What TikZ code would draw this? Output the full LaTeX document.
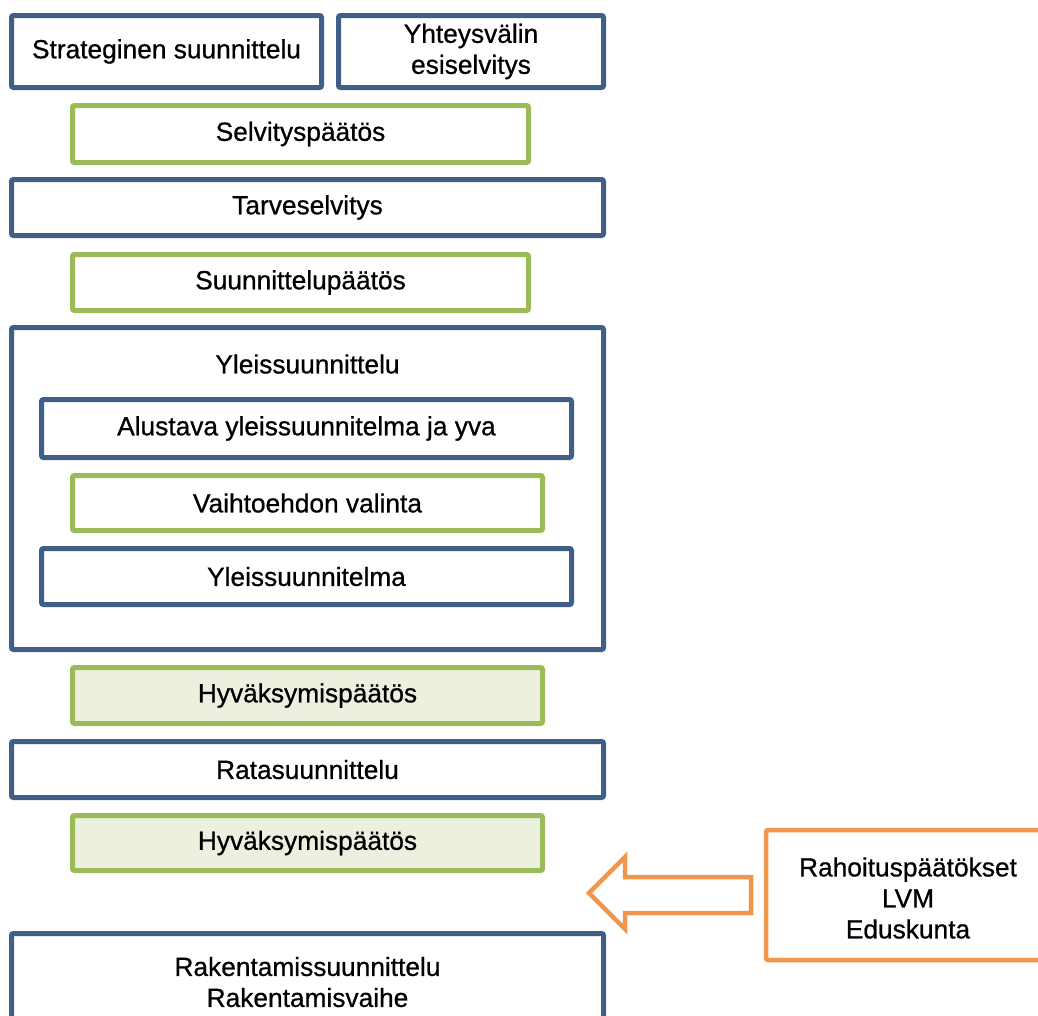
\documentclass[tikz,border=0pt]{standalone}
\usepackage{fontspec}
\setmainfont[FakeBold=0.7]{Liberation Sans}
\definecolor{bblue}{HTML}{3F5F88}
\definecolor{bgreen}{HTML}{9BBB59}
\definecolor{gfill}{HTML}{EBF1DE}
\definecolor{borange}{HTML}{F0964B}
\tikzset{
  txt/.style={align=center, font=\fontsize{26.3}{31}\selectfont},
  box/.style={txt, draw=bblue, line width=5pt, rounded corners=2pt, inner sep=0pt, fill=white},
  gbox/.style={box, draw=bgreen},
  gfbox/.style={box, draw=bgreen, fill=gfill},
  obox/.style={box, draw=borange, line width=4.5pt},
}
\begin{document}
\begin{tikzpicture}[x=1pt,y=-1pt]
\useasboundingbox (0,0) rectangle (1038,1015);
\clip (0,0) rectangle (1038,1015);
\node[box, minimum width=310, minimum height=72] (strat) at (166.5,51.5) {Strateginen suunnittelu};
\node[box, minimum width=265, minimum height=72] (yht) at (471,51.5) {Yhteysvälin\\esiselvitys};
\node[gbox, minimum width=456, minimum height=57] (selv) at (300.5,134) {Selvityspäätös};
\node[box, minimum width=592, minimum height=56] (tarve) at (307.5,207.5) {Tarveselvitys};
\node[gbox, minimum width=456, minimum height=56] (suun) at (300.5,282.5) {Suunnittelupäätös};
\node[box, minimum width=592, minimum height=322] (yleis) at (307.5,488.5) {};
\node[txt] (yleislabel) at (307.5,364) {Yleissuunnittelu};
\node[box, minimum width=530, minimum height=58] (alust) at (306.5,428.5) {Alustava yleissuunnitelma ja yva};
\node[gbox, minimum width=470, minimum height=55] (vaiht) at (307.5,503) {Vaihtoehdon valinta};
\node[box, minimum width=530, minimum height=56] (ysuun) at (306.5,576.5) {Yleissuunnitelma};
\node[gfbox, minimum width=470, minimum height=56] (hyv1) at (307.5,695.5) {Hyväksymispäätös};
\node[box, minimum width=592, minimum height=56] (rata) at (307.5,769.5) {Ratasuunnittelu};
\node[gfbox, minimum width=470, minimum height=55] (hyv2) at (307.5,843) {Hyväksymispäätös};
\node[box, minimum width=592, minimum height=104] (rak) at (307.5,985.5) {};
\node[txt] (raklabel) at (307.5,982) {Rakentamissuunnittelu\\Rakentamisvaihe};
\node[obox, minimum width=290, minimum height=130] (rah) at (911,895) {};
\node[txt] (rahlabel) at (908,898) {Rahoituspäätökset\\LVM\\Eduskunta};
\draw[draw=borange, line width=4.5pt, line join=miter, fill=white]
  (589,893) -- (625,857) -- (625,877) -- (751,877) -- (751,913) -- (625,913) -- (625,929) -- cycle;
\end{tikzpicture}
\end{document}
